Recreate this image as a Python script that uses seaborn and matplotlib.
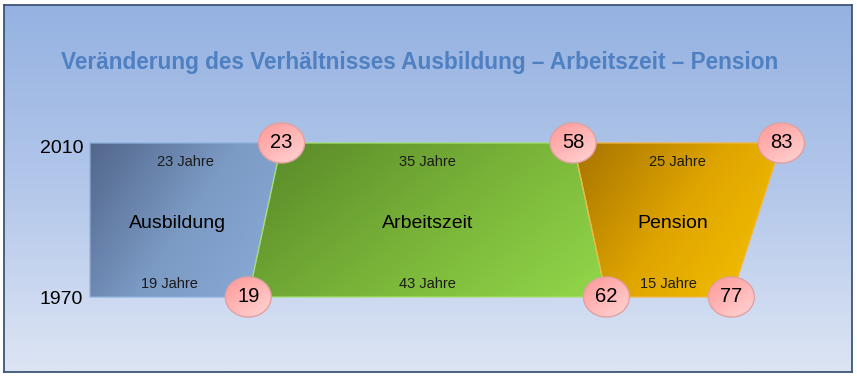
import numpy as np
import pandas as pd
import seaborn as sns
import matplotlib.pyplot as plt
from matplotlib.patches import Polygon, Ellipse
from matplotlib.colors import LinearSegmentedColormap
from matplotlib.path import Path

# ----------------------------
# Daten
# ----------------------------
phases = ["Ausbildung", "Arbeitszeit", "Pension"]
years = [1970, 2010]
start_1970 = [0, 19, 62]
end_1970 = [19, 62, 77]
start_2010 = [0, 23, 58]
end_2010 = [23, 58, 83]
title = "Veränderung des Verhältnisses Ausbildung – Arbeitszeit – Pension"

grad_colors = {
    "Ausbildung": ["#52668a", "#7b9ac4", "#8cadd9"],
    "Arbeitszeit": ["#578728", "#78b238", "#92d84a"],
    "Pension": ["#a67200", "#e0a600", "#f7c300"],
}
edge_colors = {"Ausbildung": "#8fb0da", "Arbeitszeit": "#a6e070", "Pension": "#f2b840"}

points = pd.DataFrame({
    "alter": end_2010 + end_1970,
    "jahr": [years[1]] * 3 + [years[0]] * 3,
})

sns.set_theme(style="white")
plt.rcParams["font.family"] = ["Liberation Sans", "DejaVu Sans"]

fig = plt.figure(figsize=(8.57, 3.77), dpi=100)

# Hintergrund mit Verlauf und Rahmen
bg = fig.add_axes([4 / 857, 5 / 377, 848 / 857, 367 / 377])
bg_cmap = LinearSegmentedColormap.from_list("bg", ["#95b2e1", "#b3c7ea", "#dde5f4"])
bg.imshow(np.linspace(0, 1, 200)[:, None], cmap=bg_cmap, aspect="auto",
          extent=(0, 1, 0, 1), origin="upper")
bg.set_xticks([])
bg.set_yticks([])
for sp in bg.spines.values():
    sp.set_color("#3d5576")
    sp.set_linewidth(1.3)

ax = fig.add_axes([0, 0, 1, 1])
ax.set_facecolor("none")

px = 8.33   # pixel pro Jahr (x)
py = 3.85   # pixel pro Jahr (y)
xlim = (-90 / px, (857 - 90) / px)
ylim = (1970 - 80 / py, 2010 + 143 / py)


def fill_gradient(ax, patch, extent, colors, mix=(0.65, 0.35), z=1):
    u = np.linspace(0, 1, 300)[None, :]
    v = np.linspace(0, 1, 150)[:, None]
    t = mix[0] * u + mix[1] * v
    cmap = LinearSegmentedColormap.from_list("g", colors)
    im = ax.imshow(t, cmap=cmap, extent=extent, origin="upper",
                   aspect="auto", zorder=z)
    im.set_clip_path(patch)


for i, ph in enumerate(phases):
    verts = [(start_2010[i], years[1]), (end_2010[i], years[1]),
             (end_1970[i], years[0]), (start_1970[i], years[0])]
    poly = Polygon(verts, closed=True, facecolor="none",
                   edgecolor=edge_colors[ph], lw=0.9, zorder=2)
    ax.add_patch(poly)
    xs, ys = zip(*verts)
    fill_gradient(ax, poly, (min(xs), max(xs), min(ys), max(ys)), grad_colors[ph])

    # Dauer-Beschriftungen
    ax.text((start_2010[i] + end_2010[i]) / 2, 2005.1,
            f"{end_2010[i] - start_2010[i]} Jahre", ha="center", va="center",
            fontsize=10.5, color="#1a1a1a", zorder=3)
    ax.text((start_1970[i] + end_1970[i]) / 2, 1973.4,
            f"{end_1970[i] - start_1970[i]} Jahre", ha="center", va="center",
            fontsize=10.5, color="#1a1a1a", zorder=3)
    cx = (start_2010[i] + end_2010[i] + start_1970[i] + end_1970[i]) / 4
    ax.text(cx, 1989, ph, ha="center", va="center", fontsize=14,
            color="black", zorder=3)

# Kreise mit Altersangaben (Verlauf + Rand)
ew, eh = 46 / px, 40 / py
for a, j in zip(points["alter"], points["jahr"]):
    e = Ellipse((a, j), ew, eh, facecolor="none", edgecolor="none", zorder=4)
    ax.add_patch(e)
    fill_gradient(ax, e, (a - ew / 2, a + ew / 2, j - eh / 2, j + eh / 2),
                  ["#ff9898", "#ffb6b6", "#ffd6d6"], mix=(0.45, 0.55), z=4)

theta = np.linspace(0, 2 * np.pi, 80)
ell = Path(np.column_stack([np.cos(theta), 0.87 * np.sin(theta)]), closed=True)
sns.scatterplot(data=points, x="alter", y="jahr", marker=ell, s=1096,
                facecolor="none", edgecolor="#e2a0a0", linewidth=1.0,
                zorder=5, ax=ax, legend=False)
for a, j in zip(points["alter"], points["jahr"]):
    ax.text(a, j, str(a), ha="center", va="center", fontsize=14.5,
            color="black", zorder=6)

# Jahreszahlen
year_offsets = [-3 / py, -6 / py]
for y, off in zip(years, year_offsets):
    ax.text(-0.8, y + off, str(y), ha="right", va="center", fontsize=14,
            color="black", zorder=3)

ax.text((420 - 90) / px, 2047.14 - 62 / py, title, ha="center", va="center",
        fontsize=16.3, fontweight="bold", color="#4f80c2", zorder=3)

ax.set_xlim(*xlim)
ax.set_ylim(*ylim)
ax.axis("off")

fig.savefig("out.png", dpi=100)
